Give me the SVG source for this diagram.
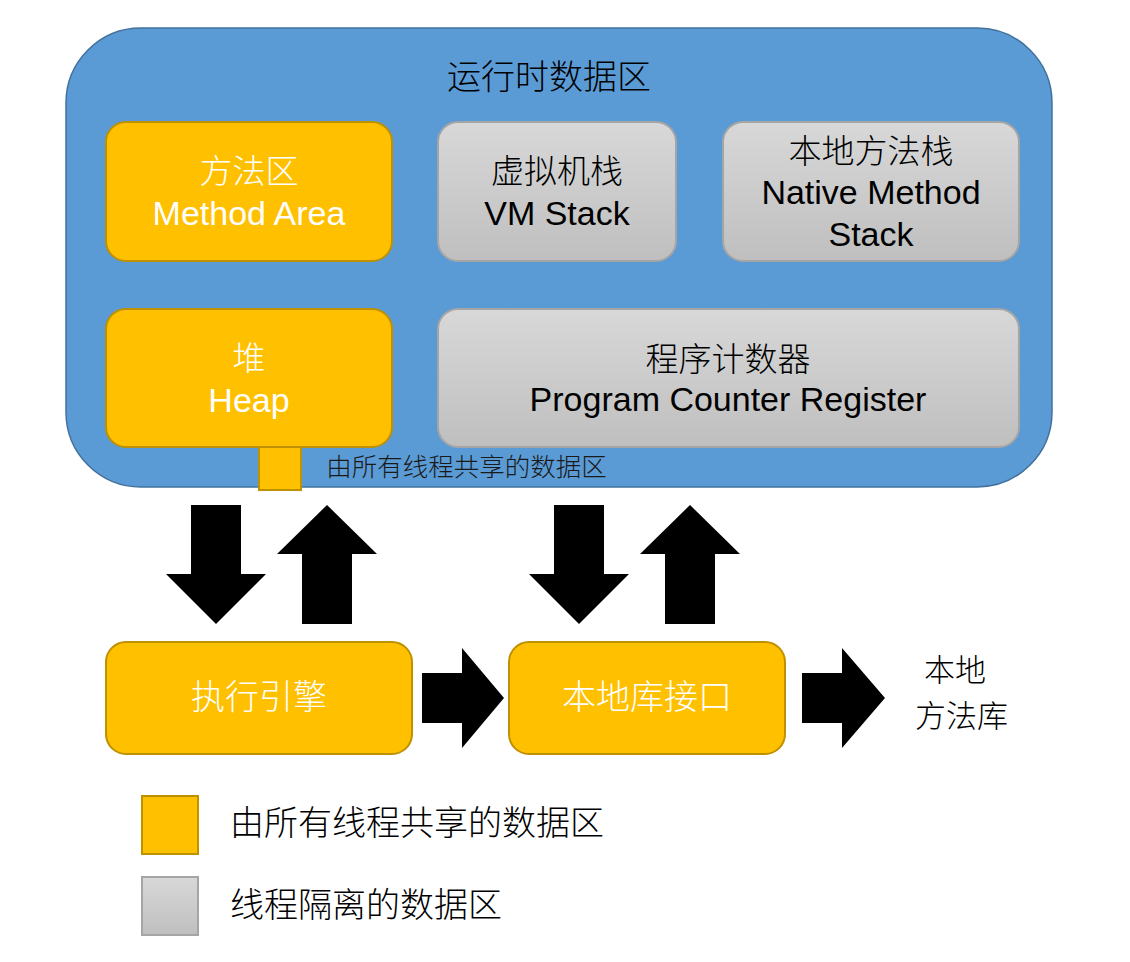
<svg xmlns="http://www.w3.org/2000/svg" width="1130" height="962" viewBox="0 0 1130 962">
<defs>
<linearGradient id="gray" x1="0" y1="0" x2="0" y2="1">
<stop offset="0" stop-color="#D8D8D8"/>
<stop offset="1" stop-color="#BFBFBF"/>
</linearGradient>
<style>
.outer{fill:#5B9BD5;stroke:#41719C;stroke-width:1.5}
.shared{fill:#FFC000;stroke:#BF9000;stroke-width:2}
.iso{fill:url(#gray);stroke:#A5A5A5;stroke-width:2}
.zh{font-family:"Noto Sans CJK SC",sans-serif;font-weight:300}
.en{font-family:"Liberation Sans",Arial,sans-serif}
.w{fill:#FFFFFF}
.k{fill:#000000}
.c{text-anchor:middle}
.arrow{fill:#000000}
</style>
</defs>
<rect width="1130" height="962" fill="#FFFFFF"/>

<g id="runtime-data-area">
<rect class="outer" x="66" y="28" width="986" height="459" rx="75" ry="75"/>
<text class="zh k c" x="549" y="89" font-size="34">运行时数据区</text>
</g>

<g id="method-area">
<rect class="shared" x="106" y="122" width="286" height="139" rx="20" ry="20"/>
<text class="zh w c" x="249" y="183" font-size="33">方法区</text>
<text class="en w c" x="249" y="225" font-size="34">Method Area</text>
</g>

<g id="vm-stack">
<rect class="iso" x="438" y="122" width="238" height="139" rx="20" ry="20"/>
<text class="zh k c" x="557" y="183" font-size="33">虚拟机栈</text>
<text class="en k c" x="557" y="225" font-size="34">VM Stack</text>
</g>

<g id="native-method-stack">
<rect class="iso" x="723" y="122" width="296" height="139" rx="20" ry="20"/>
<text class="zh k c" x="871" y="163" font-size="33">本地方法栈</text>
<text class="en k c" x="871" y="204" font-size="34">Native Method</text>
<text class="en k c" x="871" y="246" font-size="34">Stack</text>
</g>

<g id="heap">
<rect class="shared" x="106" y="309" width="286" height="138" rx="20" ry="20"/>
<text class="zh w c" x="249" y="370" font-size="33">堆</text>
<text class="en w c" x="249" y="412" font-size="34">Heap</text>
</g>

<g id="program-counter-register">
<rect class="iso" x="438" y="309" width="581" height="138" rx="20" ry="20"/>
<text class="zh k c" x="728" y="371" font-size="33">程序计数器</text>
<text class="en k c" x="728" y="411" font-size="34">Program Counter Register</text>
</g>

<g id="inner-legend">
<rect class="shared" x="259" y="447" width="42" height="43"/>
<text class="zh c" x="466.5" y="476" font-size="25.5" fill="#1A1A1A">由所有线程共享的数据区</text>
</g>

<g id="execution-engine">
<rect class="shared" x="106" y="642" width="306" height="112" rx="20" ry="20"/>
<text class="zh w c" x="259" y="709" font-size="34">执行引擎</text>
</g>

<g id="native-interface">
<rect class="shared" x="509" y="642" width="276" height="112" rx="20" ry="20"/>
<text class="zh w c" x="647" y="709" font-size="34">本地库接口</text>
</g>

<g id="native-library">
<text class="zh k" x="924" y="681" font-size="31">本地</text>
<text class="zh k" x="915" y="727" font-size="31">方法库</text>
</g>

<g id="connectors">
<polygon class="arrow" points="191,505 241,505 241,574 266,574 216,624 166,574 191,574"/>
<polygon class="arrow" points="327,505 377,554 352,554 352,624 302,624 302,554 277,554"/>
<polygon class="arrow" points="554,505 604,505 604,574 629,574 579,624 529,574 554,574"/>
<polygon class="arrow" points="690,505 740,554 715,554 715,624 665,624 665,554 640,554"/>
<polygon class="arrow" points="422,673 462,673 462,648 504,698 462,748 462,723 422,723"/>
<polygon class="arrow" points="802,673 842,673 842,648 885,698 842,748 842,723 802,723"/>
</g>

<g id="legend">
<rect class="shared" x="142" y="796" width="56" height="58"/>
<text class="zh k" x="230" y="835" font-size="34">由所有线程共享的数据区</text>
<rect class="iso" x="142" y="877" width="56" height="58"/>
<text class="zh k" x="230" y="917" font-size="34">线程隔离的数据区</text>
</g>
</svg>
